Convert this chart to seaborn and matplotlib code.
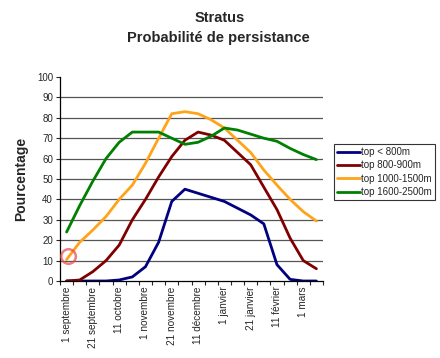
import numpy as np
import pandas as pd
import matplotlib
matplotlib.use("Agg")
import matplotlib.pyplot as plt
import seaborn as sns

# ten-day steps from 1 september to 11 mars
dates = ["1 septembre", "11 septembre", "21 septembre", "1 octobre", "11 octobre",
         "21 octobre", "1 novembre", "11 novembre", "21 novembre", "1 décembre",
         "11 décembre", "21 décembre", "1 janvier", "11 janvier", "21 janvier",
         "1 février", "11 février", "21 février", "1 mars", "11 mars"]

top_lt_800 = [0, 0, 0, 0, 0.5, 2, 7, 19, 39, 45, 43, 41, 39, 35.7, 32.4, 28, 8, 0.8, 0, 0]
top_800_900 = [0, 0.5, 4.6, 10, 17.6, 30, 40, 51, 61, 69, 73, 71.5, 69, 63, 57, 46, 35, 21, 10, 6]
top_1000_1500 = [10.5, 19, 25, 31.6, 40, 47, 57.7, 70, 82, 83, 82, 79, 75, 69, 63, 54.4, 47, 40, 34, 29.4]
top_1600_2500 = [24, 37, 49, 60, 68, 73, 73, 73, 70, 67, 68, 71, 75, 74, 72, 70, 68.5, 65, 62, 59.5]

series_names = ["top < 800m", "top 800-900m", "top 1000-1500m", "top 1600-2500m"]
colors = ["#000080", "#800000", "#FFA31A", "#008000"]

frames = []
for name, vals in zip(series_names, [top_lt_800, top_800_900, top_1000_1500, top_1600_2500]):
    frames.append(pd.DataFrame({"pos": np.arange(len(dates)), "val": vals, "serie": name}))
df = pd.concat(frames, ignore_index=True)

sns.set_style("white")
plt.rcParams["font.family"] = ["Liberation Sans", "DejaVu Sans"]

fig = plt.figure(figsize=(4.4, 3.58), dpi=100)
ax = fig.add_axes([60 / 440, 1 - 281 / 358, 263 / 440, 204 / 358])

# horizontal grid lines
for v in range(10, 100, 10):
    ax.axhline(v, color="#555555", lw=0.9, zorder=0)

sns.lineplot(data=df, x="pos", y="val", hue="serie", palette=colors, sort=False,
             linewidth=2.0, ax=ax, legend=True)

# highlight on first orange point
ax.scatter([0.15], [top_1000_1500[0] + 1.5], s=110, facecolors="none", edgecolors="#E84848",
           linewidths=1.8, alpha=0.7, zorder=5)

ax.set_xlim(-0.5, len(dates) - 0.5)
ax.set_ylim(0, 100)
ax.set_yticks(range(0, 101, 10))
ax.tick_params(axis="y", labelsize=7, length=3, width=0.8, direction="out", left=True, pad=2)
ax.set_xticks(np.arange(0, len(dates), 2))
ax.set_xticklabels(dates[::2], rotation=90, fontsize=7.2)
ax.set_xticks(np.arange(-0.5, len(dates), 1), minor=True)
ax.tick_params(axis="x", which="major", length=0, pad=4)
ax.tick_params(axis="x", which="minor", length=3, width=0.8, direction="out", bottom=True)

for s in ["top", "right"]:
    ax.spines[s].set_visible(False)
for s in ["left", "bottom"]:
    ax.spines[s].set_color("black")
    ax.spines[s].set_linewidth(0.9)

ax.set_xlabel("")
ax.set_ylabel("Pourcentage", fontsize=10, fontweight="bold", labelpad=6)

leg = ax.legend(loc="upper left", bbox_to_anchor=(334 / 440, 1 - 144 / 358),
                bbox_transform=fig.transFigure, fontsize=7, frameon=True,
                fancybox=False, edgecolor="black", handlelength=2.4,
                handletextpad=0.1, borderpad=0.3, labelspacing=0.35, borderaxespad=0)
leg.get_frame().set_linewidth(0.8)

fig.text(220 / 440, 1 - 18 / 358, "Stratus", ha="center", va="center",
         fontsize=10.5, fontweight="bold")
fig.text(218 / 440, 1 - 38 / 358, "Probabilité de persistance", ha="center", va="center",
         fontsize=10.5, fontweight="bold")

fig.savefig("out.png", dpi=100)
